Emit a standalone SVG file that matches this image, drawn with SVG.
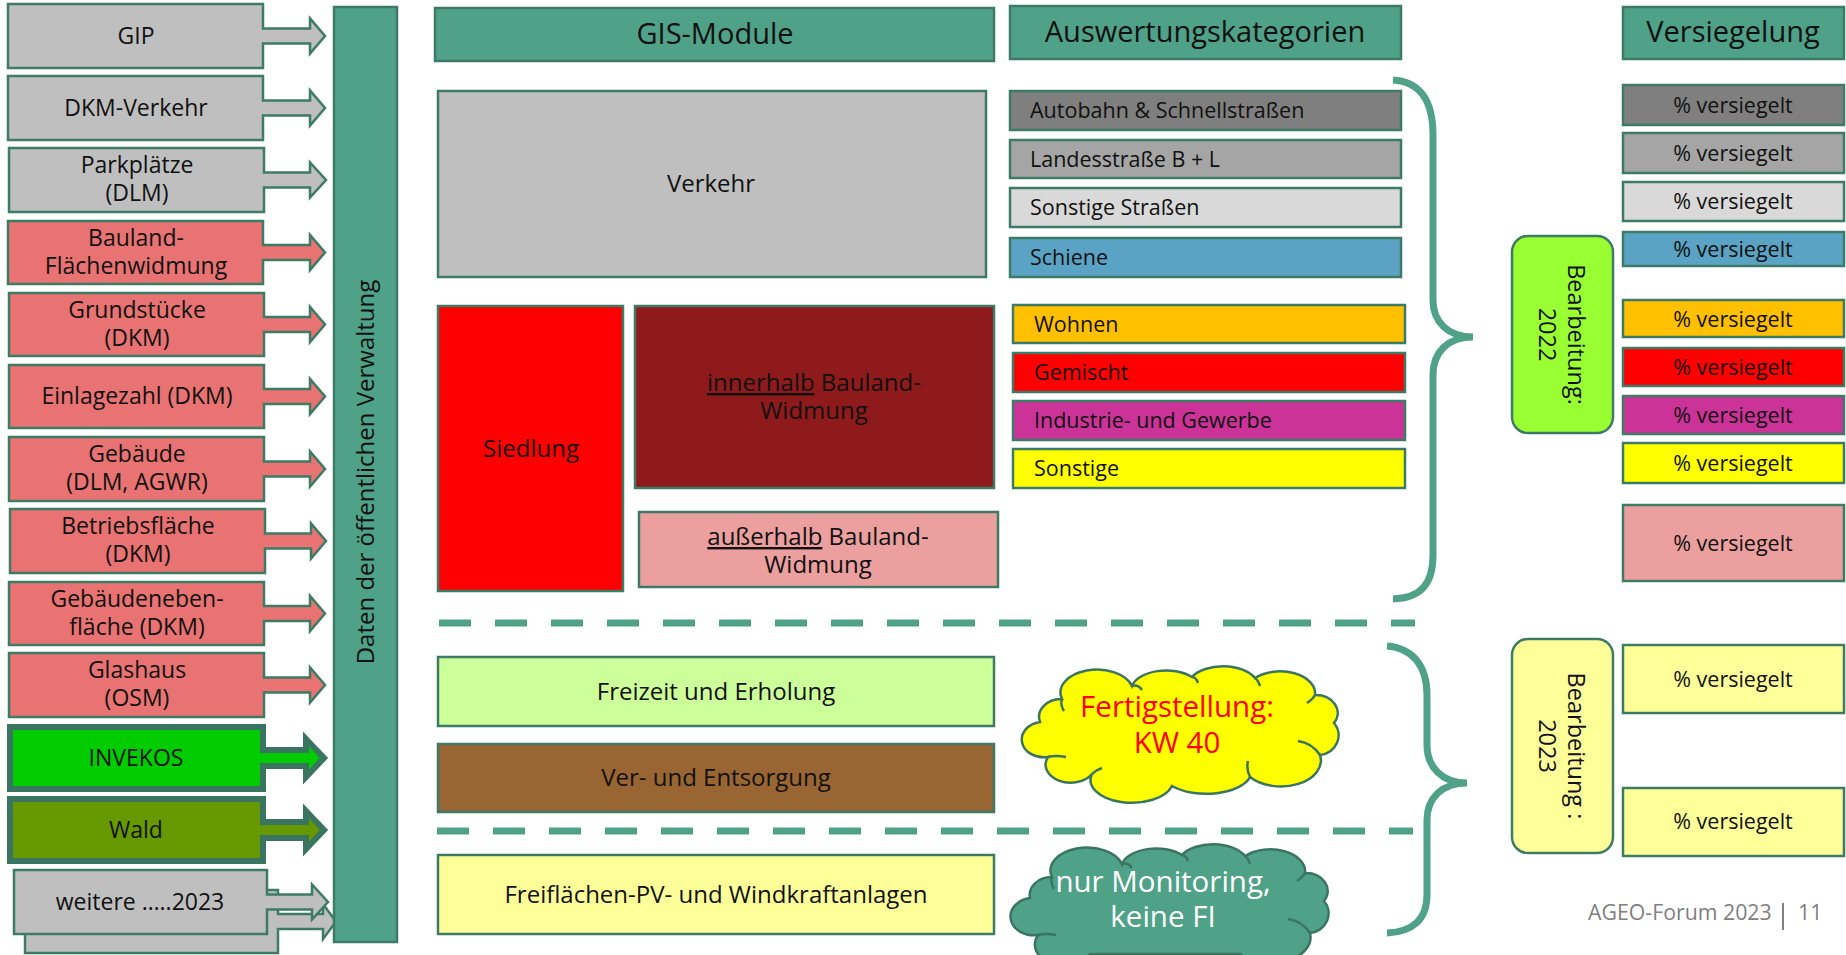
<svg xmlns="http://www.w3.org/2000/svg" width="1846" height="955" viewBox="0 0 1846 955">
<style>
text{font-family:"Open Sans","Noto Sans","Liberation Sans",sans-serif;fill:#111}
.bx{stroke:#3E7B66;stroke-width:2.5}
.thick{stroke:#3A7561;stroke-width:6}
.lt{font-size:23px;text-anchor:middle}
.hd{font-size:29px;text-anchor:middle}
.md{font-size:24px;text-anchor:middle}
.ct{font-size:21.5px}
.pv{font-size:21.5px;text-anchor:middle}
.cl{font-size:29.5px;text-anchor:middle}
.gr{fill:#BFBFBF}.rd{fill:#E87372}
.dash{stroke:#4FA287;stroke-width:7;stroke-dasharray:32 24;fill:none}
.brace{stroke:#4FA287;stroke-width:7;fill:none}
</style>
<rect width="1846" height="955" fill="#fff"/>

<g id="src-gip"><polygon class="bx gr" points="8,4 263,4 263,28.5 310,28.5 310,18.5 325,36 310,53.5 310,43.5 263,43.5 263,68 8,68"/><text class="lt" x="136" y="44">GIP</text></g>
<g id="src-dkmv"><polygon class="bx gr" points="8,76 263,76 263,100.5 310,100.5 310,90.5 325,108 310,125.5 310,115.5 263,115.5 263,140 8,140"/><text class="lt" x="136" y="116">DKM-Verkehr</text></g>
<g id="src-park"><polygon class="bx gr" points="9,148 264,148 264,172.5 310,172.5 310,162.5 326,180 310,197.5 310,187.5 264,187.5 264,212 9,212"/><text class="lt" x="137" y="173">Parkplätze</text><text class="lt" x="137" y="201">(DLM)</text></g>
<g id="src-bauland"><polygon class="bx rd" points="8,221 263,221 263,245 310,245 310,235 325,252.5 310,270 310,260 263,260 263,284 8,284"/><text class="lt" x="136" y="246">Bauland-</text><text class="lt" x="136" y="274">Flächenwidmung</text></g>
<g id="src-grund"><polygon class="bx rd" points="9,293 264,293 264,317 310,317 310,307 325,324.5 310,342 310,332 264,332 264,356 9,356"/><text class="lt" x="137" y="318">Grundstücke</text><text class="lt" x="137" y="346">(DKM)</text></g>
<g id="src-ez"><polygon class="bx rd" points="9,365 264,365 264,389 310,389 310,379 325,396.5 310,414 310,404 264,404 264,428 9,428"/><text class="lt" x="137" y="404">Einlagezahl (DKM)</text></g>
<g id="src-geb"><polygon class="bx rd" points="9,437 264,437 264,461.5 310,461.5 310,451.5 325,469 310,486.5 310,476.5 264,476.5 264,501 9,501"/><text class="lt" x="137" y="462">Gebäude</text><text class="lt" x="137" y="490">(DLM, AGWR)</text></g>
<g id="src-betr"><polygon class="bx rd" points="10,509 265,509 265,533.5 311,533.5 311,523.5 326,541 311,558.5 311,548.5 265,548.5 265,573 10,573"/><text class="lt" x="138" y="534">Betriebsfläche</text><text class="lt" x="138" y="562">(DKM)</text></g>
<g id="src-gebn"><polygon class="bx rd" points="9,582 264,582 264,606 310,606 310,596 325,613.5 310,631 310,621 264,621 264,645 9,645"/><text class="lt" x="137" y="607">Gebäudeneben-</text><text class="lt" x="137" y="635">fläche (DKM)</text></g>
<g id="src-glas"><polygon class="bx rd" points="9,653 264,653 264,677.5 310,677.5 310,667.5 325,685 310,702.5 310,692.5 264,692.5 264,717 9,717"/><text class="lt" x="137" y="678">Glashaus</text><text class="lt" x="137" y="706">(OSM)</text></g>
<g id="src-invekos"><polygon class="thick" fill="#00CC00" points="10,727 263,727 263,750 306,750 306,739 324,758 306,777 306,766 263,766 263,789 10,789"/><text class="lt" x="136" y="766">INVEKOS</text></g>
<g id="src-wald"><polygon class="thick" fill="#669900" points="10,799 263,799 263,822 306,822 306,811 324,830 306,849 306,838 263,838 263,861 10,861"/><text class="lt" x="136" y="838">Wald</text></g>
<g id="src-weitere">
<polygon class="bx gr" points="25,890 278,890 278,914 323,914 323,904 336,921.5 323,939 323,929 278,929 278,953 25,953"/>
<polygon class="bx gr" points="14,870 267,870 267,894.5 312,894.5 312,884.5 328,902 312,919.5 312,909.5 267,909.5 267,934 14,934"/>
<text class="lt" x="140" y="910">weitere …..2023</text></g>

<g id="verwaltung"><rect class="bx" fill="#4FA287" x="334" y="7" width="63" height="935"/><text transform="translate(374,472) rotate(-90)" style="font-size:24px;text-anchor:middle">Daten der öffentlichen Verwaltung</text></g>

<g id="hdr-gis"><rect class="bx" fill="#4FA287" x="435" y="8" width="559" height="53"/><text class="hd" x="715" y="44">GIS-Module</text></g>
<g id="hdr-ausw"><rect class="bx" fill="#4FA287" x="1010" y="6" width="391" height="53"/><text class="hd" x="1205" y="42">Auswertungskategorien</text></g>
<g id="hdr-vers"><rect class="bx" fill="#4FA287" x="1623" y="7" width="221" height="52"/><text class="hd" x="1733" y="42">Versiegelung</text></g>

<g id="mod-verkehr"><rect class="bx" fill="#BFBFBF" x="438" y="91" width="548" height="186"/><text class="md" x="711" y="192">Verkehr</text></g>
<g id="mod-siedlung"><rect class="bx" fill="#FF0000" x="438" y="306" width="185" height="285"/><text class="md" x="531" y="457">Siedlung</text></g>
<g id="mod-innerhalb"><rect class="bx" fill="#8E1A1C" x="635" y="306" width="359" height="182"/><text class="md" x="814" y="391"><tspan text-decoration="underline">innerhalb</tspan> Bauland-</text><text class="md" x="814" y="419">Widmung</text></g>
<g id="mod-ausserhalb"><rect class="bx" fill="#EBA09F" x="639" y="512" width="359" height="75"/><text class="md" x="818" y="545"><tspan text-decoration="underline">außerhalb</tspan> Bauland-</text><text class="md" x="818" y="573">Widmung</text></g>
<g id="mod-freizeit"><rect class="bx" fill="#CCFF99" x="438" y="657" width="556" height="69"/><text class="md" x="716" y="700">Freizeit und Erholung</text></g>
<g id="mod-verent"><rect class="bx" fill="#996633" x="438" y="744" width="556" height="68"/><text class="md" x="716" y="786">Ver- und Entsorgung</text></g>
<g id="mod-pv"><rect class="bx" fill="#FFFF99" x="438" y="855" width="556" height="79"/><text class="md" x="716" y="903">Freiflächen-PV- und Windkraftanlagen</text></g>

<g id="cat-autobahn"><rect class="bx" fill="#7F7F7F" x="1010" y="91" width="391" height="39"/><text class="ct" x="1030" y="118">Autobahn &amp; Schnellstraßen</text></g>
<g id="cat-landes"><rect class="bx" fill="#A5A5A5" x="1010" y="140" width="391" height="38"/><text class="ct" x="1030" y="167">Landesstraße B + L</text></g>
<g id="cat-sonststr"><rect class="bx" fill="#D9D9D9" x="1010" y="188" width="391" height="39"/><text class="ct" x="1030" y="215">Sonstige Straßen</text></g>
<g id="cat-schiene"><rect class="bx" fill="#5BA3C4" x="1010" y="238" width="391" height="39"/><text class="ct" x="1030" y="265">Schiene</text></g>
<g id="cat-wohnen"><rect class="bx" fill="#FFC000" x="1013" y="305" width="392" height="38"/><text class="ct" x="1034" y="332">Wohnen</text></g>
<g id="cat-gemischt"><rect class="bx" fill="#FF0000" x="1013" y="353" width="392" height="39"/><text class="ct" x="1034" y="380">Gemischt</text></g>
<g id="cat-industrie"><rect class="bx" fill="#CC3399" x="1013" y="401" width="392" height="39"/><text class="ct" x="1034" y="428">Industrie- und Gewerbe</text></g>
<g id="cat-sonstige"><rect class="bx" fill="#FFFF00" x="1013" y="449" width="392" height="39"/><text class="ct" x="1034" y="476">Sonstige</text></g>

<g id="cloud-fertig">
<path fill="#FFFF00" stroke="#3A7561" stroke-width="2.5" d="M1040,722 A22,18 0 0 1 1062,699 A35,22 0 0 1 1132,686 A35,20 0 0 1 1192,677 A35,20 0 0 1 1255,678 A35,22 0 0 1 1315,695 A22,18 0 0 1 1334,723 A22,20 0 0 1 1320,755 A40,26 0 0 1 1250,777 A45,22 0 0 1 1172,786 A40,22 0 0 1 1092,774 A25,18 0 0 1 1048,757 A20,16 0 0 1 1040,722 Z"/>
<path fill="none" stroke="#3A7561" stroke-width="2.5" d="M1062,699 q-2,6 2,12 M1132,686 q6,-2 10,4 M1192,677 q4,0 6,6 M1255,678 q3,2 5,8 M1315,695 q-2,4 -8,8 M1320,755 q-8,-12 -22,-14 M1250,777 q-4,-8 -2,-16 M1092,774 q4,-4 10,-6 M1048,757 q8,-2 18,0"/>
<text class="cl" x="1177" y="717" style="fill:#FF0000">Fertigstellung:</text>
<text class="cl" x="1177" y="753" style="fill:#FF0000">KW 40</text>
</g>
<g id="cloud-monitoring">
<path fill="#4FA287" stroke="#3A7561" stroke-width="2.5" d="M1030,898 A22,18 0 0 1 1052,877 A35,22 0 0 1 1122,864 A35,20 0 0 1 1182,855 A35,20 0 0 1 1245,856 A35,22 0 0 1 1305,873 A22,18 0 0 1 1324,901 A22,20 0 0 1 1310,933 A40,26 0 0 1 1240,954 L1090,954 A25,18 0 0 1 1038,935 A20,16 0 0 1 1030,898 Z"/>
<path fill="none" stroke="#3A7561" stroke-width="2.5" d="M1052,877 q-2,6 2,12 M1122,864 q6,-2 10,4 M1182,855 q4,0 6,6 M1245,856 q3,2 5,8 M1305,873 q-2,4 -8,8 M1310,933 q-8,-12 -22,-14 M1038,935 q8,-2 18,0"/>
<text class="cl" x="1163" y="892" style="fill:#FFFFFF">nur Monitoring,</text>
<text class="cl" x="1163" y="927" style="fill:#FFFFFF">keine FI</text>
</g>

<g id="bearb-2022"><rect class="bx" fill="#99FF33" x="1512" y="236" width="101" height="197" rx="16"/><text transform="translate(1562.5,334.5) rotate(90)" style="font-size:23.5px;text-anchor:middle"><tspan x="0" y="-5">Bearbeitung:</tspan><tspan x="0" y="24">2022</tspan></text></g>
<g id="bearb-2023"><rect class="bx" fill="#FFFF99" x="1512" y="639" width="101" height="214" rx="16"/><text transform="translate(1562.5,746) rotate(90)" style="font-size:23.5px;text-anchor:middle"><tspan x="0" y="-5">Bearbeitung :</tspan><tspan x="0" y="24">2023</tspan></text></g>

<g id="vers-1"><rect class="bx" fill="#7F7F7F" x="1623" y="85" width="221" height="40"/><text class="pv" x="1733" y="113">% versiegelt</text></g>
<g id="vers-2"><rect class="bx" fill="#A5A5A5" x="1623" y="133" width="221" height="40"/><text class="pv" x="1733" y="161">% versiegelt</text></g>
<g id="vers-3"><rect class="bx" fill="#D9D9D9" x="1623" y="182" width="221" height="39"/><text class="pv" x="1733" y="209">% versiegelt</text></g>
<g id="vers-4"><rect class="bx" fill="#5BA3C4" x="1623" y="232" width="221" height="34"/><text class="pv" x="1733" y="257">% versiegelt</text></g>
<g id="vers-5"><rect class="bx" fill="#FFC000" x="1623" y="300" width="221" height="37"/><text class="pv" x="1733" y="327">% versiegelt</text></g>
<g id="vers-6"><rect class="bx" fill="#FF0000" x="1623" y="348" width="221" height="38"/><text class="pv" x="1733" y="375">% versiegelt</text></g>
<g id="vers-7"><rect class="bx" fill="#CC3399" x="1623" y="396" width="221" height="38"/><text class="pv" x="1733" y="423">% versiegelt</text></g>
<g id="vers-8"><rect class="bx" fill="#FFFF00" x="1623" y="443" width="221" height="40"/><text class="pv" x="1733" y="471">% versiegelt</text></g>
<g id="vers-9"><rect class="bx" fill="#EBA09F" x="1623" y="505" width="221" height="76"/><text class="pv" x="1733" y="551">% versiegelt</text></g>
<g id="vers-10"><rect class="bx" fill="#FFFF99" x="1623" y="645" width="221" height="68"/><text class="pv" x="1733" y="687">% versiegelt</text></g>
<g id="vers-11"><rect class="bx" fill="#FFFF99" x="1623" y="788" width="221" height="68"/><text class="pv" x="1733" y="829">% versiegelt</text></g>

<g id="connectors">
<line class="dash" x1="439" y1="623" x2="1415" y2="623"/>
<line class="dash" x1="437" y1="831" x2="1413" y2="831"/>
<path class="brace" d="M1393,80 C1420,82 1433,100 1433,135 L1433,300 C1433,322 1448,337 1473,337 C1448,337 1433,352 1433,375 L1433,555 C1433,585 1420,598 1393,599"/>
<path class="brace" d="M1387,646 C1412,648 1427,665 1427,695 L1427,745 C1427,767 1442,783 1467,783 C1442,783 1427,798 1427,820 L1427,895 C1427,920 1412,932 1387,933"/>
</g>

<g id="footer"><text x="1588" y="920" style="font-size:21.3px;fill:#808080">AGEO-Forum 2023</text><line x1="1783" y1="903" x2="1783" y2="930" stroke="#808080" stroke-width="2"/><text x="1798" y="920" style="font-size:21.3px;fill:#808080">11</text></g>
</svg>
